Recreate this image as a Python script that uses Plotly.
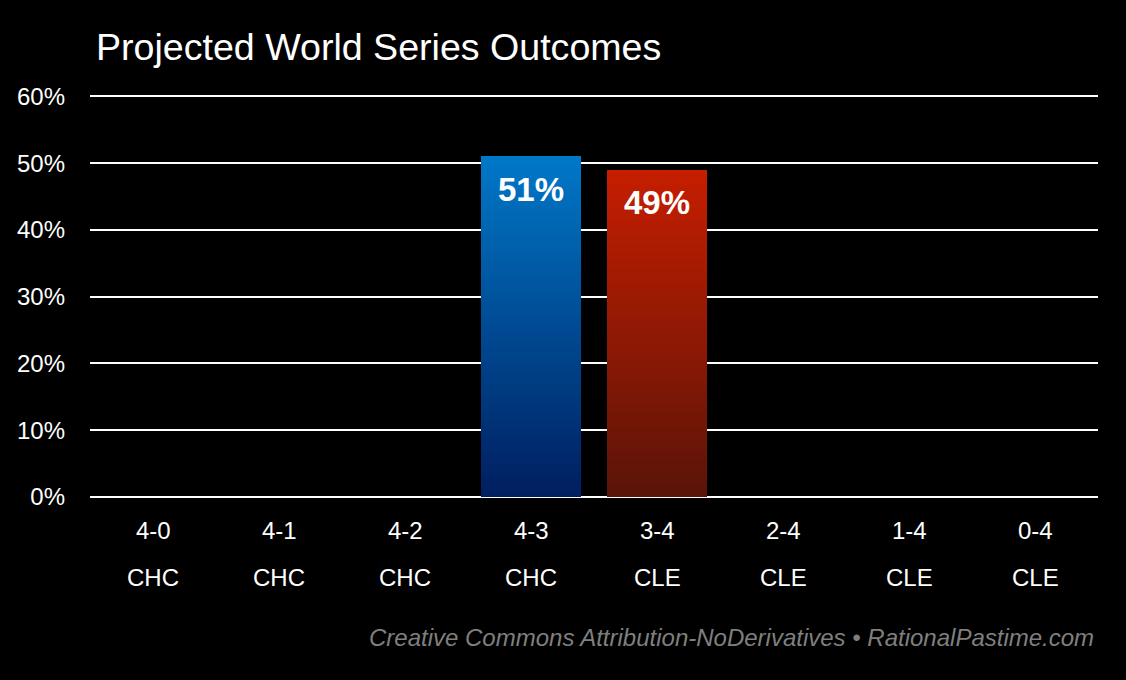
import plotly.graph_objects as go

scores = ["4-0", "4-1", "4-2", "4-3", "3-4", "2-4", "1-4", "0-4"]
teams = ["CHC", "CHC", "CHC", "CHC", "CLE", "CLE", "CLE", "CLE"]
values = [0, 0, 0, 51, 49, 0, 0, 0]
y_ticks = [0, 10, 20, 30, 40, 50, 60]

team_top = {"CHC": (0, 120, 200), "CLE": (198, 30, 0)}
team_bottom = {"CHC": (0, 30, 95), "CLE": (90, 20, 8)}

FONT = "Liberation Sans, Arial, Helvetica, sans-serif"

fig = go.Figure()

# gradient bars built from stacked slices of each value
K = 80
for k in range(K):
    t = (k + 0.5) / K
    cols = []
    for tm in teams:
        a, b = team_bottom[tm], team_top[tm]
        c = tuple(round(a[i] + (b[i] - a[i]) * t) for i in range(3))
        cols.append("rgb(%d,%d,%d)" % c)
    fig.add_trace(go.Bar(
        x=scores, y=[v / K for v in values],
        marker=dict(color=cols, line=dict(width=0)),
        showlegend=False, hoverinfo="skip",
    ))

annotations = []
for s, tm, v in zip(scores, teams, values):
    annotations.append(dict(x=s, xref="x", y=0, yref="paper", yshift=-33,
                            text=s, showarrow=False, yanchor="middle",
                            font=dict(size=24, color="white", family=FONT)))
    annotations.append(dict(x=s, xref="x", y=0, yref="paper", yshift=-80,
                            text=tm, showarrow=False, yanchor="middle",
                            font=dict(size=24, color="white", family=FONT)))
    if v > 0:
        annotations.append(dict(x=s, xref="x", y=v, yref="y", yshift=-33,
                                text="<b>%d%%</b>" % v, showarrow=False,
                                yanchor="middle",
                                font=dict(size=33, color="white", family=FONT)))

annotations.append(dict(x=0.9985, xref="paper", y=0, yref="paper", yshift=-140,
                        text="<i>Creative Commons Attribution-NoDerivatives \u2022 RationalPastime.com</i>",
                        showarrow=False, xanchor="right", yanchor="middle",
                        font=dict(size=24, color="#7f7f7f", family=FONT)))

fig.update_layout(
    width=1126, height=680,
    paper_bgcolor="black", plot_bgcolor="black",
    margin=dict(l=90, r=28, t=93, b=183),
    barmode="stack", bargap=0.2,
    title=dict(text="Projected World Series Outcomes", x=96 / 1126, xanchor="left",
               xref="container", y=1 - 47 / 680, yanchor="middle", yref="container",
               font=dict(size=37.6, color="white", family=FONT)),
    xaxis=dict(type="category", range=[-0.5, 7.5], showticklabels=False,
               showgrid=False, zeroline=False, showline=False, fixedrange=True),
    yaxis=dict(range=[0, 60.5], tickvals=y_ticks,
               ticktext=["%d%%" % v for v in y_ticks],
               showgrid=True, gridcolor="white", gridwidth=2,
               zeroline=True, zerolinecolor="white", zerolinewidth=2,
               showline=False, ticks="", ticklabelstandoff=24,
               tickfont=dict(size=24, color="white", family=FONT)),
    annotations=annotations,
    font=dict(family=FONT, color="white"),
)

fig.write_html(
    "out.html",
    config={"displayModeBar": False},
    post_script="document.body.style.margin='0';document.body.style.background='black';document.body.style.overflow='hidden';",
)
